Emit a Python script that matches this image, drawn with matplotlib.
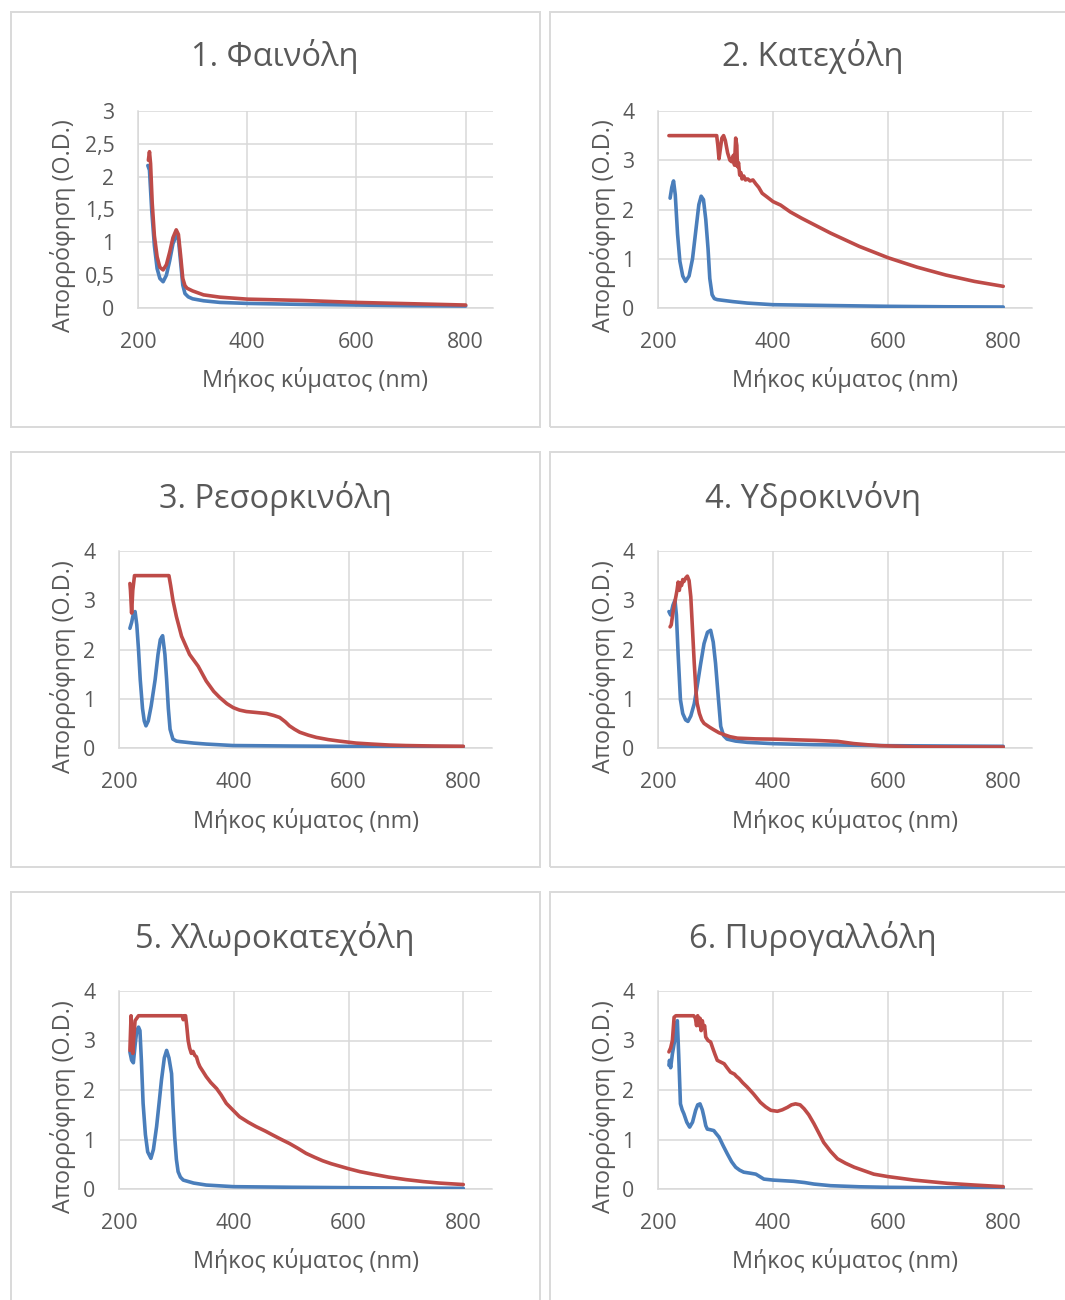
import matplotlib
matplotlib.use("Agg")
import matplotlib.pyplot as plt
from matplotlib.patches import Rectangle
from matplotlib.ticker import FixedLocator, FixedFormatter

# ---------------------------------------------------------------- data
titles = ["1. Φαινόλη", "2. Κατεχόλη", "3. Ρεσορκινόλη",
          "4. Υδροκινόνη", "5. Χλωροκατεχόλη", "6. Πυρογαλλόλη"]
x_label = "Μήκος κύματος (nm)"
y_label = "Απορρόφηση (O.D.)"
x_ticks = [200, 400, 600, 800]
x_tick_labels = ["200", "400", "600", "800"]
y_ticks_small = [0, 0.5, 1, 1.5, 2, 2.5, 3]
y_tick_labels_small = ["0", "0,5", "1", "1,5", "2", "2,5", "3"]
y_ticks_large = [0, 1, 2, 3, 4]
y_tick_labels_large = ["0", "1", "2", "3", "4"]

# 1. phenol
wl_1a = [218, 221, 225, 230, 235, 240, 246, 252, 258, 264, 270, 274, 278, 282,
         286, 292, 300, 320, 350, 400, 500, 600, 700, 800]
abs_1a = [2.17, 2.10, 1.50, 0.95, 0.60, 0.45, 0.40, 0.50, 0.72, 0.98, 1.10, 1.05,
          0.70, 0.35, 0.22, 0.17, 0.14, 0.11, 0.085, 0.07, 0.055, 0.045, 0.035, 0.03]
wl_1b = [219, 221, 223, 226, 230, 235, 240, 246, 252, 258, 264, 270, 274, 278,
         282, 286, 290, 300, 320, 350, 400, 500, 600, 700, 800]
abs_1b = [2.25, 2.38, 2.20, 1.60, 1.10, 0.78, 0.62, 0.58, 0.66, 0.85, 1.07, 1.19,
          1.12, 0.80, 0.45, 0.34, 0.30, 0.26, 0.20, 0.165, 0.135, 0.115, 0.085,
          0.065, 0.045]

# 2. catechol
wl_2a = [221, 224, 227, 230, 234, 238, 243, 248, 254, 260, 266, 271, 275, 279,
         283, 287, 290, 294, 298, 303, 330, 355, 400, 500, 600, 700, 800]
abs_2a = [2.23, 2.45, 2.58, 2.30, 1.50, 0.95, 0.65, 0.54, 0.65, 1.00, 1.60, 2.10,
          2.27, 2.20, 1.80, 1.20, 0.60, 0.27, 0.19, 0.17, 0.13, 0.10, 0.067, 0.05,
          0.034, 0.025, 0.02]
wl_2b = [219, 302, 304, 306, 308, 311, 314, 317, 321, 325, 328, 331, 333, 335,
         337, 338, 340, 342, 344, 346, 349, 352, 356, 360, 365, 370, 375, 381,
         390, 400, 413, 430, 450, 500, 550, 600, 650, 700, 750, 800]
abs_2b = [3.5, 3.5, 3.3, 3.03, 3.2, 3.45, 3.5, 3.4, 3.15, 3.0, 2.97, 3.1, 2.9,
          3.45, 3.3, 2.87, 2.95, 2.7, 2.75, 2.62, 2.68, 2.6, 2.62, 2.58, 2.6,
          2.52, 2.45, 2.33, 2.25, 2.16, 2.09, 1.95, 1.82, 1.52, 1.25, 1.02, 0.83,
          0.67, 0.54, 0.44]

# 3. resorcinol
wl_3a = [219, 222, 225, 228, 231, 234, 237, 241, 244, 247, 251, 256, 263, 268,
         272, 276, 280, 283, 286, 289, 294, 300, 306, 330, 352, 399, 500, 600,
         700, 800]
abs_3a = [2.43, 2.55, 2.72, 2.77, 2.50, 2.00, 1.39, 0.80, 0.55, 0.45, 0.55, 0.85,
          1.39, 1.90, 2.20, 2.28, 1.90, 1.39, 0.80, 0.38, 0.18, 0.14, 0.13, 0.10,
          0.08, 0.05, 0.04, 0.033, 0.03, 0.027]
wl_3b = [219, 220, 222, 224, 227, 287, 290, 294, 300, 309, 323, 338, 352, 365,
         376, 388, 399, 410, 422, 440, 457, 470, 480, 490, 497, 506, 515, 530,
         544, 565, 584, 613, 640, 671, 700, 750, 800]
abs_3b = [3.34, 3.2, 2.74, 3.2, 3.5, 3.5, 3.3, 3.0, 2.67, 2.27, 1.9, 1.66, 1.36,
          1.15, 1.02, 0.9, 0.82, 0.77, 0.74, 0.72, 0.70, 0.66, 0.62, 0.53, 0.45,
          0.38, 0.32, 0.26, 0.215, 0.17, 0.14, 0.10, 0.08, 0.06, 0.05, 0.04, 0.035]

# 4. hydroquinone
wl_4a = [219, 222, 226, 229.5, 232, 235, 239, 243, 248, 252, 257, 263, 268, 274,
         280, 286, 291.5, 296, 300, 305, 309, 314, 320, 335, 355, 400, 471, 600,
         700, 800]
abs_4a = [2.77, 2.70, 2.90, 3.00, 2.70, 1.90, 0.98, 0.70, 0.57, 0.54, 0.65, 0.90,
          1.25, 1.70, 2.12, 2.35, 2.39, 2.15, 1.72, 1.00, 0.44, 0.25, 0.18, 0.14,
          0.115, 0.088, 0.067, 0.047, 0.04, 0.034]
wl_4b = [221, 223, 226, 229, 231, 233, 235, 237, 239, 241, 243, 245, 248, 251,
         254, 257, 260, 263, 266, 268, 272, 276, 280, 290, 297, 306, 315, 325,
         338, 370, 400, 471, 512, 540, 565, 587, 645, 700, 800]
abs_4b = [2.46, 2.50, 2.75, 2.95, 3.07, 3.20, 3.37, 3.20, 3.35, 3.30, 3.42, 3.38,
          3.45, 3.49, 3.40, 3.07, 2.40, 1.72, 1.15, 0.91, 0.70, 0.57, 0.50, 0.42,
          0.37, 0.31, 0.27, 0.23, 0.20, 0.185, 0.18, 0.155, 0.135, 0.09, 0.065,
          0.047, 0.025, 0.022, 0.02]

# 5. chlorocatechol
wl_5a = [219, 222, 225, 228, 231, 234, 236.5, 239, 242, 246, 250, 255.6, 260,
         265.5, 270, 274, 279, 283, 287, 291.6, 294, 297, 300, 303, 307, 312,
         330, 352, 400, 500, 600, 700, 800]
abs_5a = [2.77, 2.60, 2.55, 2.90, 3.20, 3.27, 3.20, 2.60, 1.73, 1.10, 0.75, 0.62,
          0.80, 1.26, 1.75, 2.20, 2.65, 2.80, 2.65, 2.33, 1.70, 1.06, 0.60, 0.35,
          0.24, 0.18, 0.12, 0.08, 0.047, 0.035, 0.027, 0.02, 0.013]
wl_5b = [219, 221, 222, 224, 226, 228, 231, 234, 310, 312, 314, 316, 318, 320.5,
         323, 326, 329, 332, 335, 338, 341, 346, 352, 360, 370, 378, 387, 398,
         410, 425, 439, 455, 468, 483, 497, 512, 526, 541, 555, 570, 585, 600,
         620, 642, 670, 700, 730, 758, 800]
abs_5b = [2.8, 3.5, 3.1, 2.74, 3.1, 3.4, 3.45, 3.5, 3.5, 3.42, 3.5, 3.5, 3.3,
          3.0, 2.85, 2.74, 2.78, 2.7, 2.67, 2.55, 2.47, 2.38, 2.27, 2.15, 2.03,
          1.9, 1.73, 1.6, 1.46, 1.35, 1.26, 1.17, 1.09, 1.0, 0.92, 0.82, 0.72,
          0.64, 0.57, 0.51, 0.46, 0.41, 0.35, 0.30, 0.24, 0.19, 0.15, 0.12, 0.09]

# 6. pyrogallol
wl_6a = [219, 220, 222, 225, 229, 233.6, 236, 239, 242, 245, 250, 255, 260,
         265.4, 269, 273, 277, 280, 283, 285.7, 290, 297, 301, 306, 313, 320.5,
         328, 335, 342, 349, 360, 370, 377, 384, 400, 436, 455, 471, 500, 550,
         600, 700, 800]
abs_6a = [2.50, 2.60, 2.45, 2.73, 3.00, 3.40, 2.70, 1.72, 1.60, 1.52, 1.35, 1.25,
          1.35, 1.59, 1.70, 1.72, 1.60, 1.45, 1.28, 1.21, 1.20, 1.18, 1.12, 1.05,
          0.88, 0.71, 0.55, 0.44, 0.38, 0.34, 0.32, 0.30, 0.25, 0.20, 0.18, 0.155,
          0.13, 0.10, 0.067, 0.045, 0.034, 0.025, 0.02]
wl_6b = [219, 222, 225, 228, 231, 262, 265, 267, 269, 271, 273, 275, 277, 279,
         281, 283, 287, 291.5, 295, 299, 303, 308, 315, 320, 326, 333, 336, 341,
         347, 355, 366, 378, 387, 396, 407.5, 416, 425, 432, 439, 447, 454, 462,
         471, 480, 488, 500, 512, 526, 541, 558, 575, 600, 645, 703, 750, 800]
abs_6b = [2.77, 2.85, 3.0, 3.47, 3.5, 3.5, 3.45, 3.3, 3.5, 3.3, 3.45, 3.2, 3.4,
          3.25, 3.3, 3.07, 3.0, 2.97, 2.85, 2.72, 2.6, 2.57, 2.53, 2.45, 2.36,
          2.32, 2.28, 2.23, 2.15, 2.06, 1.92, 1.75, 1.66, 1.59, 1.57, 1.6, 1.65,
          1.7, 1.72, 1.7, 1.62, 1.5, 1.32, 1.12, 0.94, 0.76, 0.61, 0.52, 0.44,
          0.37, 0.30, 0.25, 0.18, 0.115, 0.08, 0.047]

series = [
    (wl_1a, abs_1a, wl_1b, abs_1b),
    (wl_2a, abs_2a, wl_2b, abs_2b),
    (wl_3a, abs_3a, wl_3b, abs_3b),
    (wl_4a, abs_4a, wl_4b, abs_4b),
    (wl_5a, abs_5a, wl_5b, abs_5b),
    (wl_6a, abs_6a, wl_6b, abs_6b),
]

# ---------------------------------------------------------------- style
W, H = 1065, 1300
TEXT = "#595959"
GRID = "#d9d9d9"
BLUE = "#4a7ebb"
RED = "#be4b48"
FONT = ["Open Sans", "DejaVu Sans"]

plt.rcParams["font.family"] = FONT

fig = plt.figure(figsize=(W / 100, H / 100), dpi=100)
fig.patch.set_facecolor("white")


def fx(x):
    return x / W


def fy(y):
    return 1 - y / H


# plot-area rectangles in pixels: left, top, right, bottom
plot_boxes = [
    (138, 111, 493, 308),
    (658, 111, 1032, 308),
    (119, 551, 492, 748),
    (658, 551, 1032, 748),
    (119, 991, 492, 1189),
    (658, 991, 1032, 1189),
]
# outer chart frames
frames = [
    (11, 12, 540, 427),
    (550, 12, 1080, 427),
    (11, 452, 540, 867),
    (550, 452, 1080, 867),
    (11, 892, 540, 1315),
    (550, 892, 1080, 1315),
]
title_pos = [(275, 56), (813, 56), (275, 498), (813, 498), (275, 938), (813, 938)]
ylabel_pos = [(63, 226), (603, 226), (63, 667), (603, 667), (63, 1107), (603, 1107)]
xlabel_pos = [(315, 380), (845, 380), (306, 821), (845, 821), (306, 1261), (845, 1261)]

for (l, t, r, b) in frames:
    fig.add_artist(Rectangle((fx(l), fy(b)), fx(r) - fx(l), fy(t) - fy(b),
                             transform=fig.transFigure, facecolor="none",
                             edgecolor=GRID, linewidth=1.4, zorder=0))

for i, (l, t, r, b) in enumerate(plot_boxes):
    ax = fig.add_axes([fx(l), fy(b), fx(r) - fx(l), fy(t) - fy(b)])
    wa, aa, wb, ab = series[i]
    ax.plot(wa, aa, color=BLUE, linewidth=2.6, solid_joinstyle="round",
            solid_capstyle="round", zorder=3)
    ax.plot(wb, ab, color=RED, linewidth=2.6, solid_joinstyle="round",
            solid_capstyle="round", zorder=4)

    ax.set_xlim(200, 850)
    ax.xaxis.set_major_locator(FixedLocator(x_ticks))
    ax.xaxis.set_major_formatter(FixedFormatter(x_tick_labels))
    if i == 0:
        ax.set_ylim(0, 3)
        ax.yaxis.set_major_locator(FixedLocator(y_ticks_small))
        ax.yaxis.set_major_formatter(FixedFormatter(y_tick_labels_small))
    else:
        ax.set_ylim(0, 4)
        ax.yaxis.set_major_locator(FixedLocator(y_ticks_large))
        ax.yaxis.set_major_formatter(FixedFormatter(y_tick_labels_large))

    ax.grid(True, color=GRID, linewidth=1.1, zorder=0)
    ax.set_axisbelow(True)
    for side in ("top", "right"):
        ax.spines[side].set_visible(False)
    for side in ("left", "bottom"):
        ax.spines[side].set_color(GRID)
        ax.spines[side].set_linewidth(1.1)
    ax.tick_params(length=0, labelsize=15.3, labelcolor=TEXT)
    ax.tick_params(axis="x", pad=17)
    ax.tick_params(axis="y", pad=17)
    for lab in ax.get_xticklabels() + ax.get_yticklabels():
        lab.set_fontfamily(FONT)

    tx, ty = title_pos[i]
    fig.text(fx(tx), fy(ty), titles[i], ha="center", va="center",
             fontsize=23.5, color=TEXT)
    yx, yy = ylabel_pos[i]
    fig.text(fx(yx), fy(yy), y_label, ha="center", va="center", rotation=90,
             fontsize=16.8, color=TEXT)
    lx, ly = xlabel_pos[i]
    fig.text(fx(lx), fy(ly), x_label, ha="center", va="center",
             fontsize=16.8, color=TEXT)

fig.savefig("out.png", dpi=100, facecolor="white")
